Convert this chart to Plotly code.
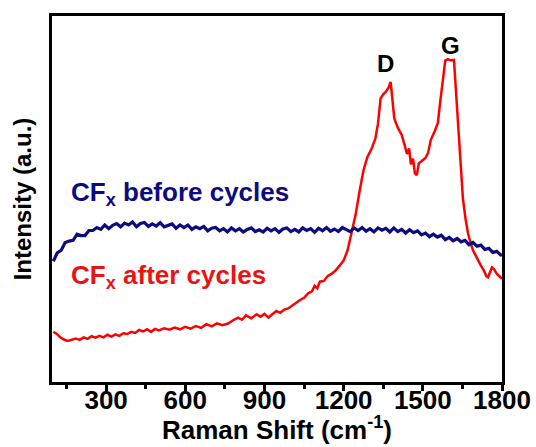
import plotly.graph_objects as go

# Raman shift (cm^-1) and intensity (a.u.)
before_x = [100,115,130,145,160,175,190,205,220,235,250,265,280,295,310,325,340,355,370,385,
            400,415,430,445,460,475,490,505,520,535,550,565,580,595,610,625,640,655,670,685,
            700,715,730,745,760,775,790,805,820,835,850,865,880,895,910,925,940,955,970,985,
            1000,1015,1030,1045,1060,1075,1090,1105,1120,1135,1150,1165,1180,1195,1210,1225,1240,1255,1270,1285,
            1300,1315,1330,1345,1360,1375,1390,1405,1420,1435,1450,1465,1480,1495,1510,1525,1540,1555,1570,1585,
            1600,1615,1630,1645,1660,1675,1690,1705,1720,1735,1750,1765,1780,1795,1800]
before_y = [33.0,35.3,36.0,38.1,38.5,38.7,40.4,40.0,40.0,41.4,41.4,42.2,41.7,42.9,41.9,42.8,43.3,42.4,43.4,42.9,
            43.7,42.4,43.3,43.6,42.5,43.2,42.6,43.5,42.4,42.9,43.2,42.0,42.9,42.2,42.9,41.7,42.4,41.9,42.5,41.3,
            42.0,42.2,41.3,41.9,41.0,42.1,41.3,41.9,41.0,41.7,42.1,41.1,41.6,41.0,42.0,41.3,41.9,40.9,41.8,42.1,
            41.1,41.7,41.0,42.1,41.4,41.9,40.9,42.0,41.3,42.2,41.2,41.8,41.1,42.2,41.6,41.1,42.1,41.4,42.2,41.2,
            41.9,41.0,42.1,41.5,42.0,41.0,42.1,41.1,41.7,40.7,41.6,40.8,41.3,40.2,40.7,39.7,40.4,39.6,40.1,38.9,
            39.5,38.6,39.2,38.3,38.7,37.5,38.1,37.1,37.4,36.2,36.5,35.4,35.7,34.7,34.8]

after_x = [100,112,125,140,155,170,185,200,215,230,245,260,275,290,305,320,335,350,365,380,
           395,410,425,440,455,470,485,500,520,540,560,580,600,620,640,660,680,700,720,740,
           760,780,800,815,830,850,870,885,900,915,930,945,960,975,990,1005,1020,1035,1050,1065,
           1080,1090,1100,1110,1125,1140,1155,1170,1185,1200,1215,1230,1245,1260,1275,1290,1305,1320,1330,1340,
           1350,1360,1370,1378,1385,1392,1405,1420,1430,1440,1448,1455,1463,1470,1477,1485,1495,1510,1520,1530,
           1545,1557,1565,1575,1585,1595,1605,1618,1625,1633,1640,1652,1662,1671,1680,1690,1700,1709,1720,1731,
           1740,1747,1755,1762,1770,1780,1790,1800]
after_y = [13.7,13.2,12.3,11.6,11.2,11.5,11.9,11.5,12.2,11.8,12.5,12.1,12.6,12.2,12.9,12.4,13.0,12.6,13.3,13.1,
           13.7,13.4,14.2,13.8,14.4,13.7,14.5,14.1,14.7,14.3,14.9,14.4,15.1,14.6,15.3,14.8,15.8,15.2,16.0,15.5,
           15.9,16.8,17.6,17.0,18.2,17.4,18.5,17.8,18.6,17.6,18.4,19.4,18.9,19.8,20.1,20.9,21.6,22.4,23.0,24.2,
           24.8,26.3,25.6,27.4,27.6,29.0,29.6,30.5,31.8,33.2,36.0,40.5,45.6,52.0,57.8,61.5,63.6,66.5,70.5,77.5,
           78.6,79.3,80.4,82.0,77.0,72.0,69.5,67.5,65.0,62.3,63.8,59.5,61.0,57.0,56.5,59.8,60.3,61.2,62.6,66.1,
           68.5,70.8,76.0,81.5,87.8,88.2,87.9,88.0,80.5,72.0,62.0,50.0,44.5,40.7,38.2,36.0,34.6,33.2,31.8,30.5,
           29.0,28.6,30.2,31.3,30.8,29.6,28.9,28.2]

x_ticks = [300, 600, 900, 1200, 1500, 1800]
x_minor = [150, 450, 750, 1050, 1350, 1650]
x_range = [95, 1800]

FONT = "Arial, Liberation Sans, sans-serif"
BLUE = "#0c0c80"
RED = "#ff0000"

fig = go.Figure()
fig.add_trace(go.Scatter(x=before_x, y=before_y, mode="lines", xaxis="x2",
                         line=dict(color=BLUE, width=3.2), showlegend=False))
fig.add_trace(go.Scatter(x=after_x, y=after_y, mode="lines",
                         line=dict(color=RED, width=2.5), showlegend=False))

fig.add_annotation(x=160, y=51.6, xref="x", yref="y", xanchor="left", yanchor="middle",
                   text="CF<sub>x</sub> before cycles", showarrow=False,
                   font=dict(family=FONT, size=26, color=BLUE, weight="bold"))
fig.add_annotation(x=160, y=28.7, xref="x", yref="y", xanchor="left", yanchor="middle",
                   text="CF<sub>x</sub> after cycles", showarrow=False,
                   font=dict(family=FONT, size=26, color="#e81414", weight="bold"))
fig.add_annotation(x=1357, y=87.0, xref="x", yref="y", text="D", showarrow=False,
                   font=dict(family=FONT, size=24, color="black", weight="bold"))
fig.add_annotation(x=1604, y=92.0, xref="x", yref="y", text="G", showarrow=False,
                   font=dict(family=FONT, size=24, color="black", weight="bold"))
# x-axis title
fig.add_annotation(x=0.5, y=-0.128, xref="paper", yref="paper", xanchor="center", yanchor="middle",
                   text="Raman Shift (cm<sup>-1</sup>)", showarrow=False,
                   font=dict(family=FONT, size=26, color="black", weight="bold"))

fig.update_layout(
    width=536, height=447,
    margin=dict(l=52, r=34, t=16, b=65),
    paper_bgcolor="white", plot_bgcolor="white",
    font=dict(family=FONT, color="black"),
    # axis carrying frame and tick marks
    xaxis=dict(
        range=x_range, tickvals=x_ticks, showticklabels=False,
        ticks="outside", ticklen=6, tickwidth=2.5, tickcolor="black",
        minor=dict(tickvals=x_minor, ticks="outside",
                   ticklen=4, tickwidth=2.5, tickcolor="black"),
        showline=True, linewidth=3, linecolor="black", mirror=True,
        showgrid=False, zeroline=False, automargin=False,
    ),
    # overlaid axis carrying tick labels (placed closer to the frame)
    xaxis2=dict(
        range=x_range, overlaying="x", anchor="y", side="bottom",
        tickvals=x_ticks, ticktext=[str(v) for v in x_ticks], ticks="",
        showline=False, showgrid=False, zeroline=False, automargin=False,
        tickfont=dict(family=FONT, size=26, color="black", weight="bold"),
    ),
    yaxis=dict(
        range=[0, 100], showticklabels=False, ticks="",
        showline=True, linewidth=3, linecolor="black", mirror=True,
        showgrid=False, zeroline=False, automargin=False,
        title=dict(text="Intensity (a.u.)", standoff=11,
                   font=dict(family=FONT, size=24, color="black", weight="bold")),
    ),
)

fig.write_html("out.html")
